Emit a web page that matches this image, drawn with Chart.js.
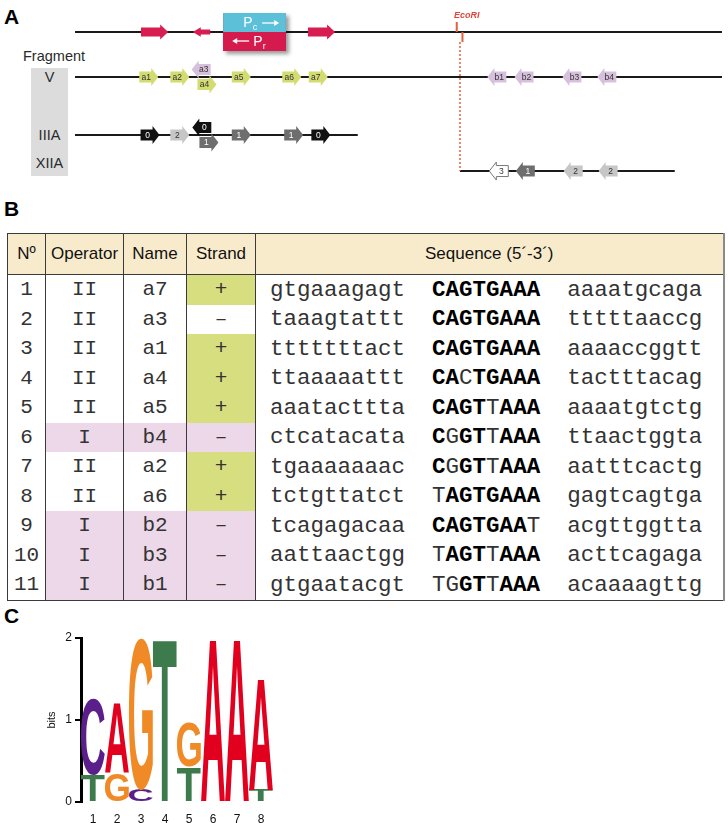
<!DOCTYPE html>
<html>
<head>
<meta charset="utf-8">
<script src="https://cdn.jsdelivr.net/npm/chart.js@4.4.1/dist/chart.umd.min.js"></script>
<style>
  html, body { margin: 0; padding: 0; background: #fff; }
  body { width: 728px; height: 823px; position: relative; overflow: hidden;
         font-family: 'Liberation Sans', Arial, sans-serif; color: #222; }
  .panel { position: absolute; font-weight: bold; font-size: 21px; color: #000; line-height: 1; }
  #fragLabel { position: absolute; left: 23px; top: 48px; font-size: 14.5px; color: #2a2a2a; }
  #fragBox { position: absolute; left: 31px; top: 68px; width: 37px; height: 108px; background: #dcdcdc; }
  .trk { position: absolute; left: 31px; width: 37px; text-align: center; font-size: 14.5px; color: #2a2a2a; line-height: 16px; }
  canvas { position: absolute; }
  #mapChart { left: 0; top: 0; }
  #logoChart { left: 0; top: 600px; }
  #sites { position: absolute; left: 7px; top: 233px; width: 716px; border-collapse: collapse;
           table-layout: fixed; border: 1px solid #3a3a3a; border-right: 2px solid #8a8a8a; }
  #sites th { background: #f8ebcc; font-weight: normal; font-size: 17px; height: 40px; padding: 0;
              border: 1px solid #3a3a3a; color: #111; }
  #sites td { height: 29.5px; padding: 0; text-align: center; vertical-align: middle;
              border-left: 1px solid #3a3a3a; border-right: 1px solid #3a3a3a;
              font-family: 'Liberation Mono', 'Courier New', monospace; font-size: 21px; color: #333; }
  #sites td.seq { text-align: left; padding-left: 14px; white-space: pre; font-size: 22.5px; color: #333; }
  #sites td.seq b { color: #000; }
  #sites td.green { background: #d6de7f; }
  #sites td.pink { background: #ecd8e8; }
</style>
</head>
<body>
<div class="panel" style="left:4px;top:6px">A</div>
<div class="panel" style="left:4px;top:198px">B</div>
<div class="panel" style="left:4px;top:605px">C</div>

<div id="fragLabel">Fragment</div>
<div id="fragBox"></div>
<div class="trk" style="top:69px">V</div>
<div class="trk" style="top:127px">IIIA</div>
<div class="trk" style="top:155px">XIIA</div>

<canvas id="mapChart" width="728" height="190"></canvas>

<table id="sites">
  <colgroup><col style="width:38px"><col style="width:78px"><col style="width:63px"><col style="width:69px"><col style="width:468px"></colgroup>
  <thead><tr><th>Nº</th><th>Operator</th><th>Name</th><th>Strand</th><th>Sequence (5´-3´)</th></tr></thead>
  <tbody></tbody>
</table>

<canvas id="logoChart" width="300" height="223"></canvas>

<script>
// ---- panel A: map of the region (x in % of the drawn stretch) ----
const trackNames = ['genome', 'V', 'IIIA', 'XIIA'];
const trackLevel = [0, 1, 2.29, 3.09];
const trackStart = [0, 0, 0, 59.5];
const trackEnd = [100, 100, 43.7, 92.7];

const geneStart = [10.2, 18.2, 36.0];
const geneEnd = [14.4, 20.9, 40.2];
const geneStrand = [1, -1, 1];

const promoterStart = 22.9;
const promoterEnd = 32.6;
const ecoRISite = 59.0;

const vSiteNames = ['a1', 'a2', 'a3', 'a4', 'a5', 'a6', 'a7', 'b1', 'b2', 'b3', 'b4'];
const vSitePos = [11.4, 16.2, 19.5, 20.4, 25.7, 33.5, 37.6, 65.2, 69.4, 76.8, 82.2];
const vSiteStrand = [1, 1, -1, 1, 1, 1, 1, -1, -1, -1, -1];
const vSiteLane = [0, 0, -1, 1, 0, 0, 0, 0, 0, 0, 0];

const iiiaScores = ['0', '2', '0', '1', '1', '1', '0'];
const iiiaPos = [11.6, 16.2, 19.6, 20.7, 25.7, 33.8, 38.0];
const iiiaStrand = [1, 1, -1, 1, 1, 1, 1];
const iiiaLane = [0, 0, -1, 1, 0, 0, 0];

const xiiaScores = ['3', '1', '2', '2'];
const xiiaPos = [65.5, 69.6, 77.0, 82.4];
const xiiaStrand = [-1, -1, -1, -1];

// ---- panel B: operator sites ----
const siteNo = [1, 2, 3, 4, 5, 6, 7, 8, 9, 10, 11];
const operators = ['II', 'II', 'II', 'II', 'II', 'I', 'II', 'II', 'I', 'I', 'I'];
const names = ['a7', 'a3', 'a1', 'a4', 'a5', 'b4', 'a2', 'a6', 'b2', 'b3', 'b1'];
const strands = ['+', '–', '+', '+', '+', '–', '+', '+', '–', '–', '–'];
const leftFlank = ['gtgaaagagt', 'taaagtattt', 'tttttttact', 'ttaaaaattt', 'aaatacttta', 'ctcatacata',
  'tgaaaaaaac', 'tctgttatct', 'tcagagacaa', 'aattaactgg', 'gtgaatacgt'];
const cores = ['CAGTGAAA', 'CAGTGAAA', 'CAGTGAAA', 'CACTGAAA', 'CAGTTAAA', 'CGGTTAAA',
  'CGGTTAAA', 'TAGTGAAA', 'CAGTGAAT', 'TAGTTAAA', 'TGGTTAAA'];
const rightFlank = ['aaaatgcaga', 'tttttaaccg', 'aaaaccggtt', 'tactttacag', 'aaaatgtctg', 'ttaactggta',
  'aatttcactg', 'gagtcagtga', 'acgttggtta', 'acttcagaga', 'acaaaagttg'];
const consensus = 'CAGTGAAA';

// ---- panel C: sequence logo (bits per letter) ----
const logoPositions = ['1', '2', '3', '4', '5', '6', '7', '8'];
const bitsT = [0.33, 0, 0, 2.0, 0.43, 0, 0, 0.15];
const bitsC = [0.93, 0, 0.15, 0, 0, 0, 0, 0];
const bitsG = [0, 0.35, 1.85, 0, 0.55, 0, 0, 0];
const bitsA = [0, 0.85, 0, 0, 0, 2.0, 2.0, 1.36];

const LETTER_COLORS = { A: '#e2001f', C: '#5b1f8c', G: '#f08a26', T: '#3d7a4c' };
const SCORE_STYLE = {
  '0': { fill: '#111', text: '#fff' },
  '1': { fill: '#6e6e6e', text: '#fff' },
  '2': { fill: '#c6c6c6', text: '#333' },
  '3': { fill: '#fff', text: '#333', stroke: '#777' }
};

const tbody = document.querySelector('#sites tbody');
siteNo.forEach((n, i) => {
  const opI = operators[i] === 'I';
  const core = cores[i].split('').map((c, k) => c === consensus[k] ? `<b>${c}</b>` : c).join('');
  const strandCls = opI ? 'pink' : (strands[i] === '+' ? 'green' : '');
  const tr = document.createElement('tr');
  tr.innerHTML = `<td>${n}</td><td class="${opI ? 'pink' : ''}">${operators[i]}</td>` +
    `<td class="${opI ? 'pink' : ''}">${names[i]}</td><td class="${strandCls}">${strands[i]}</td>` +
    `<td class="seq">${leftFlank[i]}  ${core}  ${rightFlank[i]}</td>`;
  tbody.appendChild(tr);
});

const poly = (ctx, pts) => {
  ctx.beginPath();
  pts.forEach(([x, y], k) => k ? ctx.lineTo(x, y) : ctx.moveTo(x, y));
  ctx.closePath();
};

const drawSite = (ctx, cx, cy, dir, label, style) => {
  const half = 9.5, head = 7, bh = 5.5, hh = 9;
  const pts = [[-half, -bh], [half - head, -bh], [half - head, -hh], [half, 0],
    [half - head, hh], [half - head, bh], [-half, bh]].map(([x, y]) => [cx + dir * x, cy + y]);
  poly(ctx, pts);
  ctx.fillStyle = style.fill;
  ctx.fill();
  if (style.stroke) {
    ctx.strokeStyle = style.stroke;
    ctx.lineWidth = 1;
    ctx.stroke();
  }
  ctx.fillStyle = style.text;
  ctx.font = '8.5px "Liberation Sans", Arial';
  ctx.textAlign = 'center';
  ctx.textBaseline = 'middle';
  ctx.fillText(label, cx - dir * 2.5, cy + 0.5);
};

const drawArrowLine = (ctx, x1, x2, y) => {
  const d = Math.sign(x2 - x1);
  ctx.beginPath();
  ctx.moveTo(x1, y);
  ctx.lineTo(x2 - d * 4, y);
  ctx.stroke();
  poly(ctx, [[x2, y], [x2 - d * 5, y - 3], [x2 - d * 5, y + 3]]);
  ctx.fill();
};

const genomeMap = {
  id: 'genomeMap',
  afterDatasetsDraw(chart) {
    const { ctx, scales: { x, y } } = chart;
    ctx.save();

    // EcoRI site and the dotted link down to fragment XIIA
    const ex = x.getPixelForValue(ecoRISite);
    const ey = y.getPixelForValue(trackLevel[0]);
    const dx = x.getPixelForValue(trackStart[3]);
    ctx.strokeStyle = '#e2603c';
    ctx.lineWidth = 2;
    ctx.beginPath();
    ctx.moveTo(ex, ey - 10); ctx.lineTo(ex, ey);
    ctx.moveTo(dx + 2.5, ey); ctx.lineTo(dx + 2.5, ey + 10);
    ctx.stroke();
    ctx.lineWidth = 1.5;
    ctx.setLineDash([2, 2]);
    ctx.beginPath();
    ctx.moveTo(dx, ey + 10);
    ctx.lineTo(dx, y.getPixelForValue(trackLevel[3]));
    ctx.stroke();
    ctx.setLineDash([]);
    ctx.fillStyle = '#e0453a';
    ctx.font = 'italic bold 9px "Liberation Sans", Arial';
    ctx.textAlign = 'center';
    ctx.textBaseline = 'middle';
    ctx.fillText('EcoRI', ex + 10, ey - 16);

    // genes on the top line
    geneStart.forEach((s, i) => {
      const a = x.getPixelForValue(geneStrand[i] > 0 ? s : geneEnd[i]);
      const b = x.getPixelForValue(geneStrand[i] > 0 ? geneEnd[i] : s);
      const len = Math.abs(b - a);
      const k = Math.min(1, len / 26);
      const d = Math.sign(b - a);
      const bh = 4.5 * k * (k < 1 ? 0.8 : 1), hh = 7.5 * k * (k < 1 ? 0.95 : 1), head = 8;
      poly(ctx, [[a, ey - bh], [b - d * head, ey - bh], [b - d * head, ey - hh], [b, ey],
        [b - d * head, ey + hh], [b - d * head, ey + bh], [a, ey + bh]]);
      ctx.fillStyle = '#d81e50';
      ctx.fill();
    });

    // promoters Pc / Pr
    const pl = x.getPixelForValue(promoterStart);
    const pr = x.getPixelForValue(promoterEnd);
    const bt = ey - 19, bb = ey + 19;
    ctx.save();
    ctx.shadowColor = 'rgba(0,0,0,0.4)';
    ctx.shadowBlur = 4;
    ctx.shadowOffsetX = 3;
    ctx.shadowOffsetY = 3;
    ctx.fillStyle = '#d51a4e';
    ctx.fillRect(pl, bt, pr - pl, bb - bt);
    ctx.restore();
    ctx.fillStyle = '#5cc0d9';
    ctx.fillRect(pl, bt, pr - pl, ey - bt);
    ctx.fillStyle = '#d51a4e';
    ctx.fillRect(pl, ey, pr - pl, bb - ey);

    ctx.fillStyle = '#fff';
    ctx.strokeStyle = '#fff';
    ctx.lineWidth = 1.3;
    ctx.textAlign = 'left';
    ctx.textBaseline = 'alphabetic';
    ctx.font = '14px "Liberation Sans", Arial';
    ctx.fillText('P', pl + 20, ey - 5);
    ctx.font = '9px "Liberation Sans", Arial';
    ctx.fillText('c', pl + 29.5, ey - 2);
    drawArrowLine(ctx, pl + 39, pl + 56, ey - 9);
    ctx.font = '14px "Liberation Sans", Arial';
    ctx.fillText('P', pl + 30, ey + 14);
    ctx.font = '9px "Liberation Sans", Arial';
    ctx.fillText('r', pl + 39.5, ey + 17);
    drawArrowLine(ctx, pl + 26, pl + 9, ey + 9);

    // operator sites on fragment V
    const yV = y.getPixelForValue(trackLevel[1]);
    vSiteNames.forEach((nm, i) => {
      const style = vSiteStrand[i] > 0 ? { fill: '#d3dc70', text: '#333' } : { fill: '#d6c0db', text: '#333' };
      drawSite(ctx, x.getPixelForValue(vSitePos[i]), yV + vSiteLane[i] * 7.5, vSiteStrand[i], nm, style);
    });
    // predicted sites with mismatch scores on IIIA and XIIA
    const yIII = y.getPixelForValue(trackLevel[2]);
    iiiaScores.forEach((s, i) => {
      drawSite(ctx, x.getPixelForValue(iiiaPos[i]), yIII + iiiaLane[i] * 7.5, iiiaStrand[i], s, SCORE_STYLE[s]);
    });
    const yXII = y.getPixelForValue(trackLevel[3]);
    xiiaScores.forEach((s, i) => {
      drawSite(ctx, x.getPixelForValue(xiiaPos[i]), yXII, xiiaStrand[i], s, SCORE_STYLE[s]);
    });
    ctx.restore();
  }
};

new Chart(document.getElementById('mapChart'), {
  type: 'scatter',
  data: {
    datasets: trackNames.map((n, i) => ({
      label: n,
      type: 'line',
      data: [{ x: trackStart[i], y: trackLevel[i] }, { x: trackEnd[i], y: trackLevel[i] }],
      borderColor: '#1a1a1a',
      borderWidth: 2,
      pointRadius: 0,
      fill: false
    }))
  },
  options: {
    responsive: false,
    animation: false,
    events: [],
    layout: { padding: { left: 75, right: 6, top: 9.5, bottom: 0.5 } },
    plugins: { legend: { display: false }, tooltip: { enabled: false } },
    scales: {
      x: { type: 'linear', min: 0, max: 100, display: false },
      y: { type: 'linear', min: -0.5, max: 3.5, reverse: true, display: false }
    }
  },
  plugins: [genomeMap]
});

// ---- sequence logo ----
const glyphFont = 'bold 100px "Liberation Sans", Arial';
const drawGlyph = (ctx, letter, color, x0, y0, w, h) => {
  ctx.save();
  ctx.font = glyphFont;
  const m = ctx.measureText(letter);
  const gw = m.actualBoundingBoxLeft + m.actualBoundingBoxRight;
  const gh = m.actualBoundingBoxAscent + m.actualBoundingBoxDescent;
  ctx.translate(x0, y0);
  ctx.scale(w / gw, h / gh);
  ctx.fillStyle = color;
  ctx.textAlign = 'left';
  ctx.textBaseline = 'alphabetic';
  ctx.fillText(letter, m.actualBoundingBoxLeft, m.actualBoundingBoxAscent);
  ctx.restore();
};

const logoLetters = {
  id: 'logoLetters',
  afterDatasetsDraw(chart) {
    const ctx = chart.ctx;
    chart.data.datasets.forEach((ds, i) => {
      chart.getDatasetMeta(i).data.forEach((bar) => {
        const p = bar.getProps(['x', 'y', 'base', 'width'], true);
        const h = p.base - p.y;
        if (h < 0.5) return;
        drawGlyph(ctx, ds.label, LETTER_COLORS[ds.label], p.x - p.width / 2, p.y, p.width, h);
      });
    });
  }
};

const letterSet = (letter, values) => ({
  label: letter,
  data: values,
  backgroundColor: 'rgba(0,0,0,0)',
  borderWidth: 0,
  barPercentage: 1,
  categoryPercentage: 1
});

new Chart(document.getElementById('logoChart'), {
  type: 'bar',
  data: {
    labels: logoPositions,
    datasets: [letterSet('T', bitsT), letterSet('C', bitsC), letterSet('G', bitsG), letterSet('A', bitsA)]
  },
  options: {
    responsive: false,
    animation: false,
    events: [],
    layout: { padding: { left: 0, right: 27, top: 38, bottom: 0 } },
    plugins: { legend: { display: false }, tooltip: { enabled: false } },
    scales: {
      x: {
        stacked: true,
        grid: { display: false },
        border: { display: false },
        ticks: { color: '#111', font: { size: 12, family: '"Liberation Sans", Arial' }, padding: 2, maxRotation: 0 },
        afterFit(s) { s.height = 21; }
      },
      y: {
        stacked: true,
        min: 0,
        max: 2,
        ticks: { stepSize: 1, color: '#111', font: { size: 12, family: '"Liberation Sans", Arial' }, padding: 3 },
        grid: { drawOnChartArea: false, drawTicks: true, tickLength: 6, color: '#000', lineWidth: 2 },
        border: { display: true, color: '#000', width: 3 },
        title: { display: true, text: 'bits', color: '#111', font: { size: 11, family: '"Liberation Sans", Arial' },
                 padding: { top: 45, bottom: 0 } },
        afterFit(s) { s.width = 81; }
      }
    }
  },
  plugins: [logoLetters]
});
</script>
</body>
</html>
